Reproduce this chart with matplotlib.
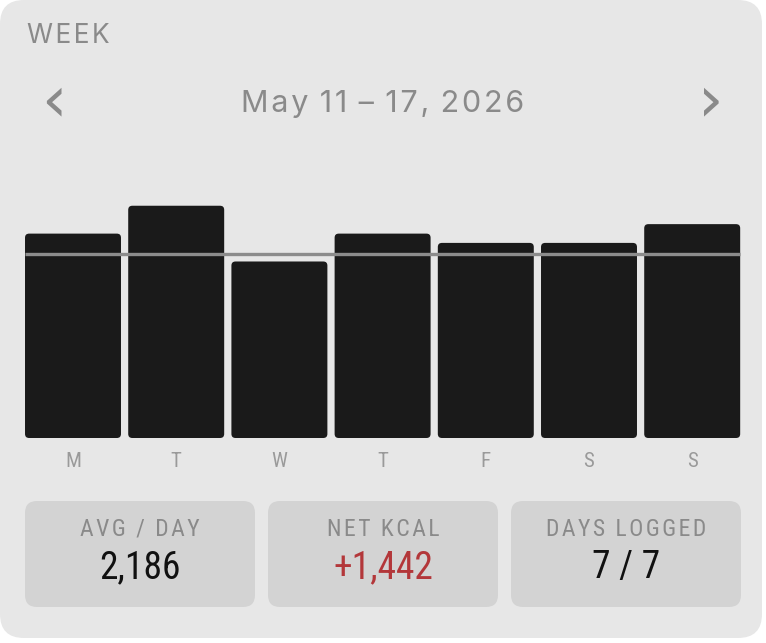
import matplotlib.pyplot as plt
from matplotlib.patches import FancyBboxPatch

# data
days = ["M", "T", "W", "T", "F", "S", "S"]
kcal = [2200, 2500, 1900, 2200, 2100, 2100, 2302]
goal = 1980
week_label = "May 11 – 17, 2026"
stat_titles = ["AVG / DAY", "NET KCAL", "DAYS LOGGED"]
stat_values = ["2,186", "+1,442", "7 / 7"]
stat_colors = ["#111111", "#b3373a", "#111111"]

W, H = 766, 643
fig = plt.figure(figsize=(W / 100, H / 100), dpi=100)
fig.patch.set_facecolor("white")

narrow = ["Roboto Condensed", "Liberation Sans Narrow", "Roboto", "DejaVu Sans"]
wide = ["Inter", "Roboto", "DejaVu Sans"]


def tracked(s, sep="\u200a"):
    # fake letter spacing
    return sep.join(s)


def tracked_words(s, sep="\u200a"):
    return (" " + sep).join(sep.join(w) for w in s.split(" "))


# background layer in pixel coordinates
bg = fig.add_axes([0, 0, 1, 1])
bg.set_xlim(0, W)
bg.set_ylim(H, 0)
bg.axis("off")

card = FancyBboxPatch((0, 0), 762, 638, boxstyle="round,pad=0,rounding_size=24",
                      fc="#e7e7e7", ec="none")
bg.add_patch(card)

grey = "#8a8a8a"
bg.text(27, 36, tracked("WEEK"), fontsize=19, color=grey, family=wide,
        va="center", ha="left")
bg.text(383, 104, tracked_words(week_label), fontsize=22, color=grey, family=wide,
        va="center", ha="center")
bg.text(54, 102, "‹", fontsize=46, color=grey, family="DejaVu Sans",
        va="center", ha="center")
bg.text(711, 102, "›", fontsize=46, color=grey, family="DejaVu Sans",
        va="center", ha="center")

# stat cards
box_x = [25, 268, 511]
for x0, t, v, c in zip(box_x, stat_titles, stat_values, stat_colors):
    bg.add_patch(FancyBboxPatch((x0, 501), 230, 106,
                                boxstyle="round,pad=0,rounding_size=12",
                                fc="#d3d3d3", ec="none"))
    bg.text(x0 + 115, 529, tracked(t), fontsize=17, color=grey,
            family=narrow, va="center", ha="center")
    bg.text(x0 + 115, 568, v, fontsize=27, color=c, family=narrow,
            va="center", ha="center")

# bar chart
ax = fig.add_axes([21.4 / W, (H - 438) / H, 722.4 / W, 288 / H])
ax.set_facecolor("none")
x = range(len(days))
bars = ax.bar(x, kcal, width=0.93, color="#1a1a1a", zorder=2)
for r in bars:
    r.set_visible(False)
    ax.add_patch(FancyBboxPatch((r.get_x(), 0), r.get_width(), r.get_height(),
                                boxstyle="round,pad=0,rounding_size=0.04",
                                mutation_aspect=1100, fc="#1a1a1a", ec="none",
                                zorder=2))
ax.hlines(goal, -0.465, 6.465, color="#8c8c8c", lw=2.4, zorder=3)
ax.set_xlim(-0.5, 6.5)
ax.set_ylim(0, 3100)
ax.set_xticks(list(x))
ax.set_xticklabels(days, fontsize=15, color="#9a9a9a", family=narrow)
ax.tick_params(axis="x", length=0, pad=10)
ax.set_yticks([])
for s in ax.spines.values():
    s.set_visible(False)

fig.savefig("out.png", dpi=100, facecolor="white")
